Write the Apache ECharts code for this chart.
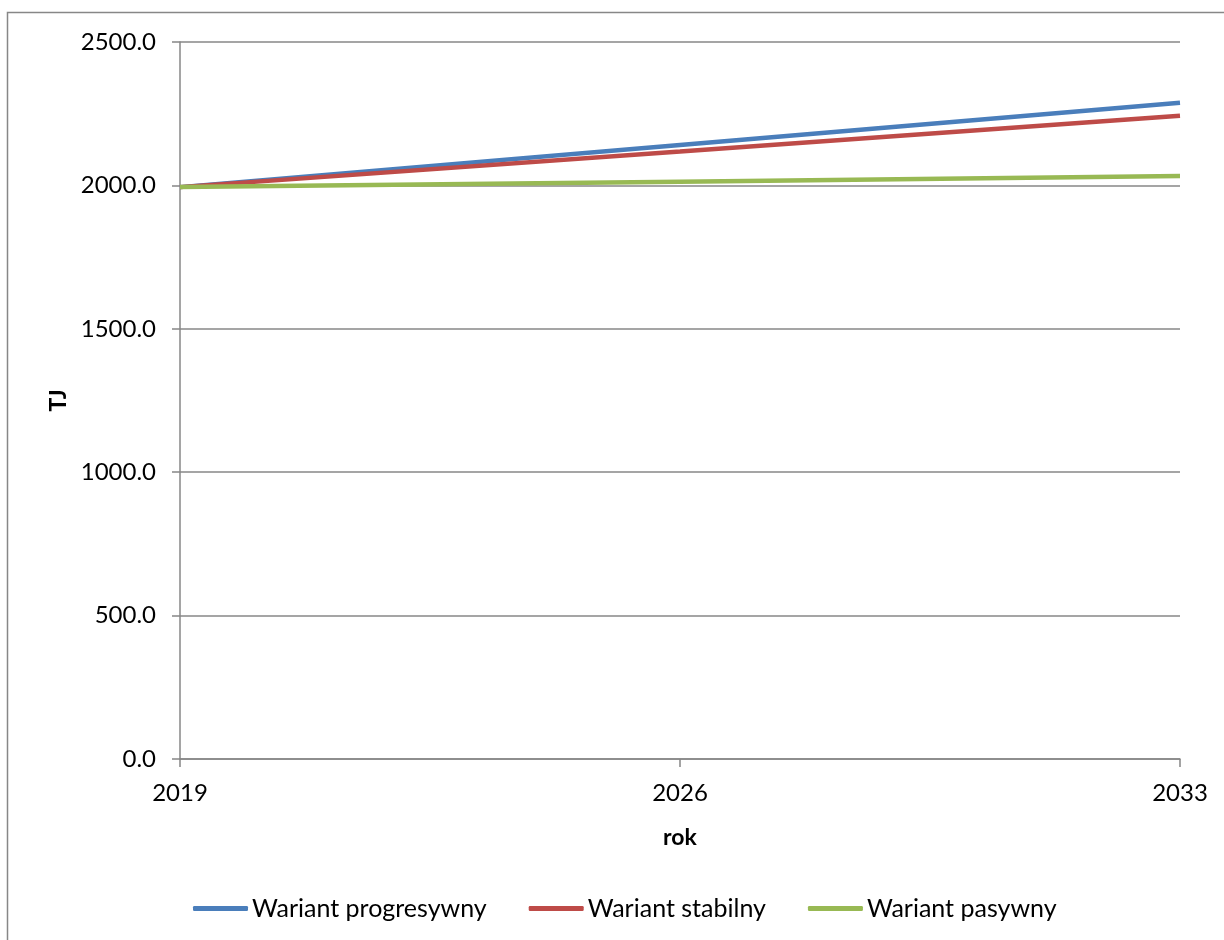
<!DOCTYPE html>
<html>
<head>
<meta charset="utf-8">
<script src="https://cdn.jsdelivr.net/npm/echarts@6/dist/echarts.min.js"></script>
<style>
  html, body { margin: 0; padding: 0; background: #ffffff; }
  #chart { width: 1224px; height: 940px; }
</style>
</head>
<body>
<div id="chart"></div>
<script>
// Years on the horizontal axis
const years = ['2019', '2026', '2033'];

// Energy demand scenarios, TJ
const progresywny = [1994, 2141, 2288];
const stabilny = [1994, 2118, 2243];
const pasywny = [1994, 2013, 2033];

const seriesNames = ['Wariant progresywny', 'Wariant stabilny', 'Wariant pasywny'];

const FONT = 'Lato, "Open Sans", sans-serif';
const GRAY = '#878787';

const chart = echarts.init(document.getElementById('chart'));

function lineSeries(name, data, color) {
  return {
    name: name,
    type: 'line',
    data: data,
    symbol: 'none',
    smooth: false,
    lineStyle: { color: color, width: 4.5 },
    itemStyle: { color: color },
    emphasis: { disabled: true }
  };
}

chart.setOption({
  animation: false,
  backgroundColor: '#ffffff',
  graphic: [{
    type: 'rect',
    shape: { x: 7.5, y: 12.5, width: 1400, height: 1100 },
    style: { fill: null, stroke: GRAY, lineWidth: 1.5 },
    silent: true,
    z: -1
  }],
  grid: { left: 180, right: 44, top: 42, bottom: 181, containLabel: false },
  legend: {
    bottom: 14,
    left: 188,
    itemWidth: 55,
    itemHeight: 5,
    itemGap: 42,
    icon: 'roundRect',
    textStyle: { fontFamily: FONT, fontSize: 25, color: '#000000', padding: [0, 0, 0, -1] },
    data: seriesNames
  },
  xAxis: {
    type: 'category',
    data: years,
    boundaryGap: false,
    name: 'rok',
    nameLocation: 'middle',
    nameGap: 67,
    nameTextStyle: { fontFamily: FONT, fontSize: 23, fontWeight: 'bold', color: '#000000' },
    axisLine: { lineStyle: { color: GRAY, width: 1.5 } },
    axisTick: { show: true, alignWithLabel: true, length: 8, lineStyle: { color: GRAY, width: 1.5 } },
    axisLabel: { fontFamily: FONT, fontSize: 24, color: '#000000', margin: 22 },
    splitLine: { show: false }
  },
  yAxis: {
    type: 'value',
    min: 0,
    max: 2500,
    interval: 500,
    name: 'TJ',
    nameLocation: 'middle',
    nameGap: 107,
    nameRotate: 90,
    nameTextStyle: { fontFamily: FONT, fontSize: 23, fontWeight: 'bold', color: '#000000' },
    axisLine: { show: true, lineStyle: { color: GRAY, width: 1.5 } },
    axisTick: { show: true, inside: false, length: 8, lineStyle: { color: GRAY, width: 1.5 } },
    axisLabel: {
      fontFamily: FONT, fontSize: 24, color: '#000000', margin: 24,
      formatter: function (v) { return v.toFixed(1); }
    },
    splitLine: { show: true, lineStyle: { color: GRAY, width: 1.5 } }
  },
  series: [
    lineSeries(seriesNames[0], progresywny, '#4A7EBB'),
    lineSeries(seriesNames[1], stabilny, '#BE4B48'),
    lineSeries(seriesNames[2], pasywny, '#98B954')
  ]
});
</script>
</body>
</html>
